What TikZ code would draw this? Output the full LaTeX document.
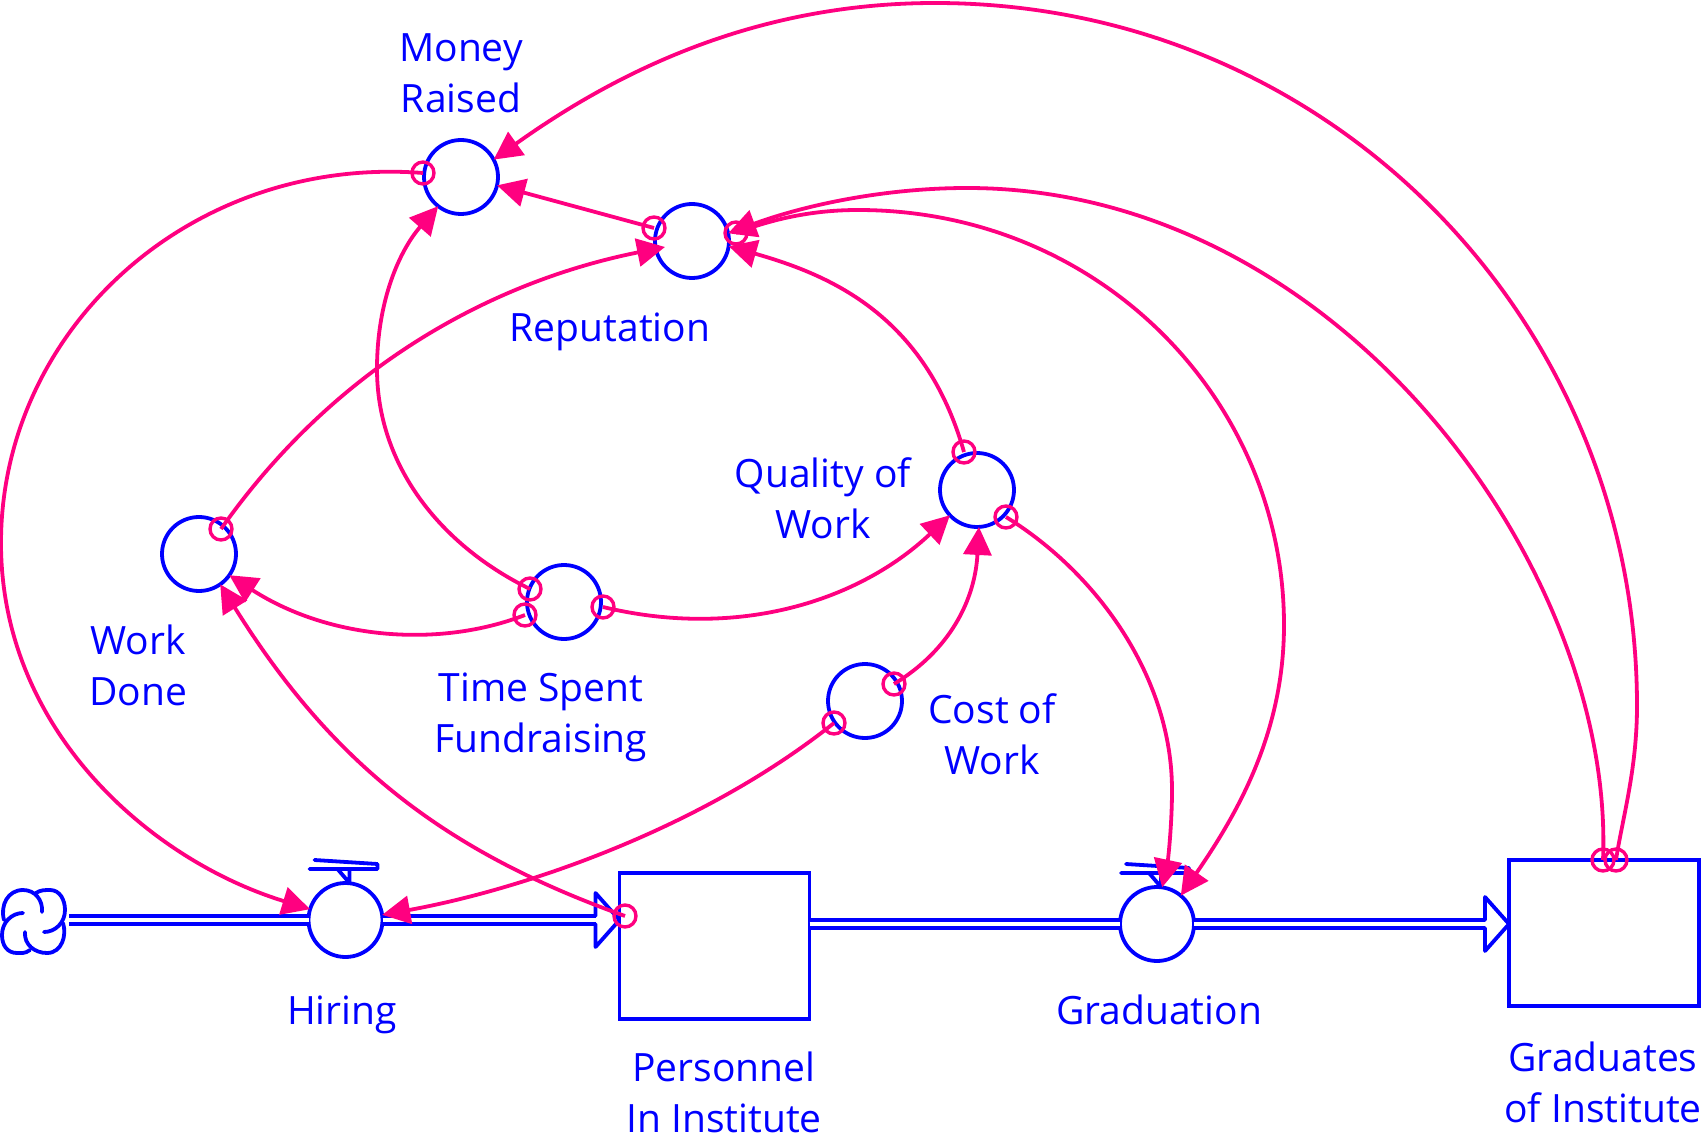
\documentclass[tikz,border=0pt]{standalone}
\usepackage{fontspec}
\setmainfont{Open Sans}
\usetikzlibrary{arrows.meta}
\definecolor{flowblue}{RGB}{0,0,255}
\definecolor{linkpink}{RGB}{255,0,128}
\tikzset{
	pipe/.style={draw=flowblue, line width=1.7pt, double=white, double distance=2.2pt},
	outline/.style={draw=flowblue, line width=1.9pt, line cap=round, line join=round},
	converter/.style={circle, draw=flowblue, line width=1.9pt, fill=white, minimum size=37pt, inner sep=0pt, outer sep=0pt},
	stock/.style={rectangle, draw=flowblue, line width=1.9pt, inner sep=0pt, outer sep=0pt, minimum width=95pt, minimum height=73pt},
	ring/.style={circle, draw=linkpink, line width=1.7pt, minimum size=11pt, inner sep=0pt, outer sep=0pt},
	link/.style={draw=linkpink, line width=1.9pt, -{Triangle[length=14pt, width=14pt]}},
	label/.style={text=flowblue, font=\fontsize{19.5}{25.5}\selectfont, align=center, inner sep=0pt}
}
\newcommand{\flowhead}[1]{\draw[outline, shift={(#1)}] (-24,-4) to (-24,-27) to (0,0) to (-24,27) to (-24,4);}
\newcommand{\valvetop}[1]{\draw[outline, shift={(#1)}] (-31,-60) to (32,-56) to (32,-51) to (-36,-51) (-8,-51) to (4,-37) to (4,-51);}
\begin{document}
\begin{tikzpicture}[x=0.5pt, y=-0.5pt]
	\useasboundingbox (0,0) rectangle (1704,1139);

	\node (cloud) at (33.5,922) [minimum width=31.5pt, minimum height=31.5pt, inner sep=0pt, outer sep=0pt] {};
	\draw[outline] (4,920) .. controls (0,905) and (8,890) .. (23,890) .. controls (35,890) and (43,900) .. (42,912);
	\draw[outline] (36,893) .. controls (40,890) and (45,890) .. (50,890) .. controls (60,890) and (65,900) .. (65,910) .. controls (65,923) and (55,932) .. (44,932);
	\draw[outline] (63,923) .. controls (67,935) and (62,953) .. (47,953) .. controls (35,953) and (24,945) .. (25,932);
	\draw[outline] (30,950) .. controls (25,954) and (20,953) .. (17,953) .. controls (7,953) and (2,945) .. (2,935) .. controls (2,922) and (12,913) .. (23,913);

	\node[stock] (personnel) at (714.5,946) {};
	\node[stock] (graduates) at (1604,933) {};
	\node[converter] (hiring) at (345.5,920) {};
	\node[converter] (graduation) at (1157,924) {};
	\node[converter] (money) at (461,177) {};
	\node[converter] (reputation) at (692,241) {};
	\node[converter] (quality) at (977,490) {};
	\node[converter] (workdone) at (199,554) {};
	\node[converter] (timespent) at (564,602) {};
	\node[converter] (cost) at (865,701) {};

	\coordinate (personnelin) at (hiring.east -| personnel.west);
	\coordinate (graduatesin) at (graduation.east -| graduates.west);
	\coordinate (reputationin) at (665,247);

	\draw[pipe, shorten <=2pt] (hiring.west -| cloud.east) to (hiring.west);
	\draw[pipe, shorten >=12pt] (hiring.east) to (personnelin);
	\draw[pipe] (graduation.west -| personnel.east) to (graduation.west);
	\draw[pipe, shorten >=12pt] (graduation.east) to (graduatesin);
	\flowhead{personnelin}
	\flowhead{graduatesin}
	\valvetop{hiring.center}
	\valvetop{graduation.center}

	\node[ring] (moneyout) at (423,173) {};
	\node[ring] (reputationoutl) at (654,228) {};
	\node[ring] (reputationoutr) at (736,233) {};
	\node[ring] (qualityouta) at (964,452) {};
	\node[ring] (qualityoutb) at (1006,517) {};
	\node[ring] (workdoneout) at (221,529) {};
	\node[ring] (timespenta) at (530,589) {};
	\node[ring] (timespentb) at (525,615) {};
	\node[ring] (timespentc) at (603,607) {};
	\node[ring] (costa) at (894,684) {};
	\node[ring] (costb) at (834,723) {};
	\node[ring] (personnelout) at (625,916) {};
	\node[ring] (graduatesa) at (1603,860) {};
	\node[ring] (graduatesb) at (1616,860) {};

	\draw[link] (moneyout.center) .. controls (190,155) and (1,330) .. (1,543) .. controls (1,730) and (150,860) .. (hiring.163);
	\draw[link] (graduatesb.center) .. controls (1622,820) and (1637,770) .. (1637,706) .. controls (1637,320) and (1330,3) .. (935,3) .. controls (750,3) and (611,76) .. (money.28);
	\draw[link] (graduatesa.center) .. controls (1615,570) and (1340,188) .. (967,188) .. controls (885,188) and (805,205) .. (reputation.12);
	\draw[link] (reputationoutr.center) .. controls (775,218) and (815,210) .. (858,210) .. controls (1100,210) and (1284,400) .. (1284,625) .. controls (1284,730) and (1240,810) .. (graduation.50);
	\draw[link] (qualityoutb.center) .. controls (1100,575) and (1172,680) .. (1172,790) .. controls (1172,825) and (1168,860) .. (graduation.82);
	\draw[link] (qualityouta.center) .. controls (925,315) and (830,275) .. (reputation.-8);
	\draw[link] (costa.center) .. controls (950,650) and (975,600) .. (quality.273);
	\draw[link] (timespentc.center) .. controls (740,640) and (860,600) .. (quality.223);
	\draw[link] (timespentb.center) .. controls (440,648) and (330,640) .. (workdone.-35);
	\draw[link] (timespenta.center) .. controls (440,545) and (377,465) .. (377,369) .. controls (377,300) and (400,250) .. (money.232);
	\draw[link] (workdoneout.center) .. controls (340,360) and (500,280) .. (reputationin);
	\draw[link] (personnelout.center) .. controls (440,850) and (330,760) .. (workdone.-55);
	\draw[link] (costb.center) .. controls (700,830) and (520,890) .. (hiring.8);
	\draw[link] (reputationoutl.center) to (money.-13);

	\node[label] (moneylabel) at (461,73) {Money\\Raised};
	\node[label] (reputationlabel) at (610,331.5) {Reputation};
	\node[label] (qualitylabel) at (823,498) {Quality of\\Work};
	\node[label] (workdonelabel) at (138,665) {Work\\Done};
	\node[label] (timespentlabel) at (541,717.5) {Time Spent\\Fundraising};
	\node[label] (costlabel) at (992,734) {Cost of\\Work};
	\node[label] (hiringlabel) at (342,1014.5) {Hiring};
	\node[label] (personnellabel) at (724,1092) {Personnel\\In Institute};
	\node[label] (graduationlabel) at (1159,1010) {Graduation};
	\node[label] (graduateslabel) at (1603,1082) {Graduates\\of Institute};
\end{tikzpicture}
\end{document}
